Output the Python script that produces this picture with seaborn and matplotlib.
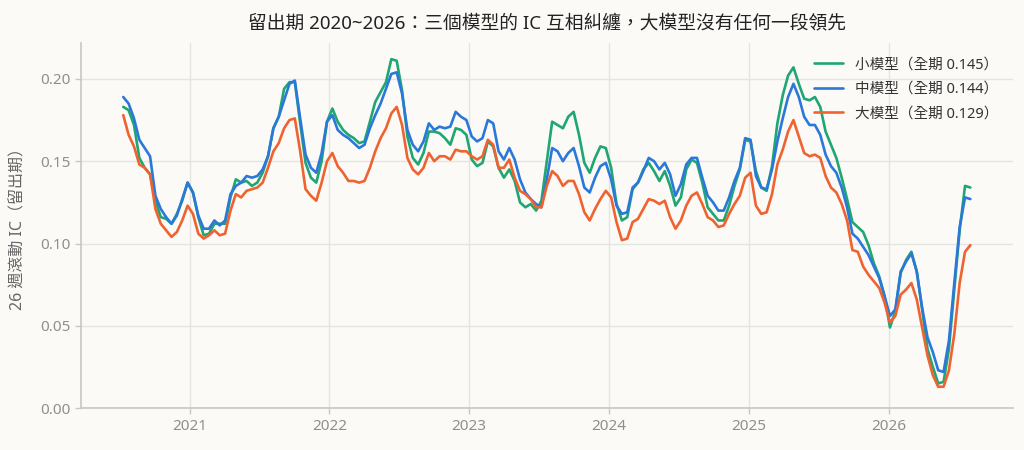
import matplotlib
matplotlib.use('Agg')
import matplotlib.dates as mdates
import matplotlib.pyplot as plt
import numpy as np
import pandas as pd
import seaborn as sns

# rolling 26-week IC, every two weeks
start_date = '2020-07-12'
n_points = 159

small_ic = [
    .183, .181, .172, .152, .146, .142, .126, .116, .115, .112,
    .118, .126, .137, .131, .116, .105, .106, .112, .112, .112,
    .128, .139, .137, .138, .135, .137, .143, .153, .170, .177,
    .194, .198, .198, .173, .149, .140, .137, .150, .174, .182,
    .174, .169, .166, .164, .161, .162, .174, .186, .192, .198,
    .212, .211, .193, .165, .152, .148, .155, .168, .168, .167,
    .164, .160, .170, .169, .166, .151, .147, .149, .162, .159,
    .146, .140, .145, .138, .125, .122, .124, .120, .126, .150,
    .174, .172, .170, .177, .180, .166, .149, .143, .152, .159,
    .158, .146, .124, .114, .116, .133, .137, .145, .149, .144,
    .138, .144, .135, .123, .128, .145, .151, .149, .137, .122,
    .118, .114, .114, .123, .135, .145, .163, .162, .144, .134,
    .132, .147, .173, .190, .202, .207, .197, .188, .187, .189,
    .183, .168, .160, .152, .140, .127, .113, .110, .107, .099,
    .088, .080, .068, .049, .059, .082, .090, .095, .083, .060,
    .036, .025, .015, .016, .036, .072, .108, .135, .134,
]

medium_ic = [
    .189, .185, .176, .163, .158, .153, .129, .121, .116, .112,
    .117, .127, .137, .131, .117, .109, .109, .114, .111, .114,
    .130, .135, .137, .141, .140, .141, .145, .153, .170, .177,
    .187, .197, .199, .176, .154, .146, .143, .155, .174, .178,
    .169, .166, .164, .161, .158, .160, .170, .178, .185, .194,
    .203, .204, .191, .169, .160, .156, .162, .173, .169, .171,
    .170, .171, .180, .177, .175, .165, .162, .164, .175, .173,
    .156, .151, .158, .151, .139, .131, .127, .124, .122, .139,
    .158, .156, .150, .155, .158, .147, .134, .131, .140, .147,
    .149, .139, .123, .118, .119, .134, .137, .144, .152, .150,
    .145, .149, .142, .129, .136, .148, .152, .152, .140, .129,
    .125, .120, .120, .128, .138, .146, .164, .163, .141, .134,
    .133, .145, .162, .176, .189, .197, .189, .177, .172, .172,
    .166, .154, .147, .143, .134, .122, .106, .103, .098, .093,
    .086, .079, .068, .056, .060, .083, .089, .094, .083, .061,
    .043, .034, .023, .022, .041, .076, .110, .128, .127,
]

large_ic = [
    .178, .166, .159, .148, .146, .142, .121, .112, .108, .104,
    .107, .114, .123, .118, .106, .103, .105, .108, .105, .106,
    .120, .130, .128, .132, .133, .134, .137, .146, .156, .161,
    .170, .175, .176, .156, .133, .129, .126, .137, .150, .155,
    .147, .143, .138, .138, .137, .138, .146, .156, .164, .170,
    .179, .183, .172, .152, .145, .142, .146, .155, .150, .153,
    .153, .151, .157, .156, .156, .153, .151, .153, .163, .160,
    .146, .146, .151, .140, .132, .130, .127, .122, .122, .135,
    .144, .141, .135, .138, .138, .130, .119, .114, .121, .127,
    .132, .128, .113, .102, .103, .113, .115, .121, .127, .126,
    .124, .126, .116, .109, .114, .123, .129, .131, .124, .116,
    .114, .110, .111, .118, .124, .129, .140, .143, .123, .118,
    .119, .130, .148, .157, .168, .175, .165, .155, .153, .154,
    .152, .141, .134, .131, .124, .114, .096, .095, .086, .081,
    .077, .073, .064, .052, .056, .069, .072, .076, .066, .049,
    .032, .020, .013, .013, .023, .045, .076, .095, .099,
]

model_labels = ['小模型（全期 0.145）', '中模型（全期 0.144）', '大模型（全期 0.129）']
model_colors = ['#1fa672', '#2b78d8', '#ef6331']


def main() -> None:
    sns.set_theme(style='whitegrid')
    plt.rcParams['font.family'] = ['Noto Sans', 'Noto Sans CJK TC', 'DejaVu Sans']
    plt.rcParams['axes.unicode_minus'] = False

    dates = pd.date_range(start_date, periods=n_points, freq='14D')
    frames = []
    for label, values in zip(model_labels, [small_ic, medium_ic, large_ic]):
        frames.append(pd.DataFrame({'date': dates, 'ic': values, 'model': label}))
    df = pd.concat(frames, ignore_index=True)

    bg = '#fbfaf7'
    fig = plt.figure(figsize=(10.24, 4.5), dpi=100, facecolor=bg)
    ax = fig.add_axes([0.079, 0.093, 0.910, 0.812])
    ax.set_facecolor(bg)

    sns.lineplot(data=df, x='date', y='ic', hue='model', hue_order=model_labels,
                 palette=model_colors, linewidth=1.9, ax=ax)

    ax.xaxis.set_major_locator(mdates.YearLocator())
    ax.xaxis.set_major_formatter(mdates.DateFormatter('%Y'))
    ax.set_yticks(np.arange(0, 0.201, 0.05))
    ax.yaxis.set_major_formatter(matplotlib.ticker.FormatStrFormatter('%.2f'))

    ax.grid(True, color='#e4e4e0', linewidth=1.0)
    for side in ['top', 'right']:
        ax.spines[side].set_visible(False)
    for side in ['left', 'bottom']:
        ax.spines[side].set_color('#c8c8c0')
        ax.spines[side].set_linewidth(1.2)
    ax.tick_params(axis='both', colors='#c8c8c0', labelcolor='#8f8f8f',
                   labelsize=11, length=4, width=1, bottom=True, left=True)

    ax.set_xlabel('')
    ax.set_ylabel('26 週滾動 IC（留出期）', fontsize=11.5, color='#666666', labelpad=10)
    ax.set_title('留出期 2020~2026：三個模型的 IC 互相糾纏，大模型沒有任何一段領先',
                 fontsize=13.5, color='#222222', pad=10)

    leg = ax.legend(loc='upper right', frameon=False, fontsize=10.5, title=None,
                    borderaxespad=0.6, labelspacing=0.65)
    for text in leg.get_texts():
        text.set_color('#333333')

    fig.savefig('out.png', dpi=100, facecolor=bg)


if __name__ == '__main__':
    main()
